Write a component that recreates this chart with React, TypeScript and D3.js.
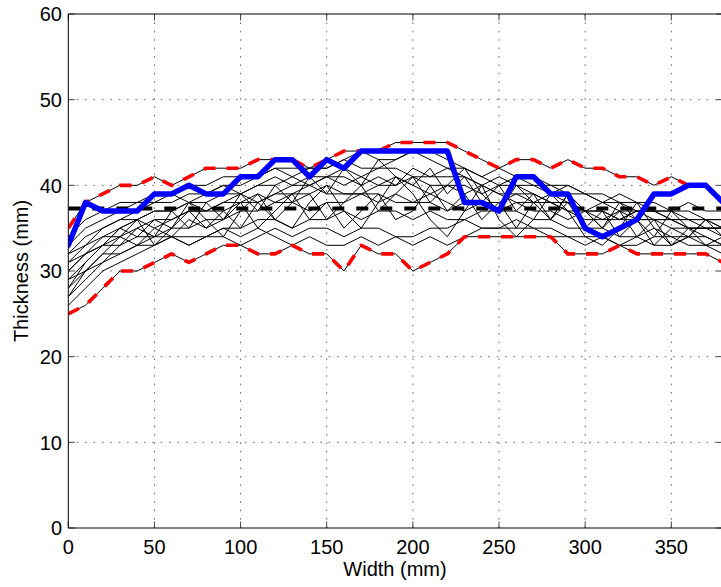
import React from 'react';
import * as d3 from 'd3';

const widths = [0,10,20,30,40,50,60,70,80,90,100,110,120,130,140,150,160,170,180,190,200,210,220,230,240,250,260,270,280,290,300,310,320,330,340,350,360,370,380];
const xTicks = [0,50,100,150,200,250,300,350];
const yTicks = [0,10,20,30,40,50,60];

const highlighted = [33,38,37,37,37,39,39,40,39,39,41,41,43,43,41,43,42,44,44,44,44,44,44,38,38,37,41,41,39,39,35,34,35,36,39,39,40,40,38];
const upperEnvelope = [35,38,39,40,40,41,40,41,42,42,42,43,43,43,42,43,44,44,44,45,45,45,45,44,43,42,43,43,42,43,42,42,41,41,40,41,40,40,38];
const lowerEnvelope = [25,26,28,30,30,31,32,31,32,33,33,32,32,33,32,32,30,33,32,32,30,31,32,34,34,34,34,34,34,32,32,32,33,32,32,32,32,32,31];
const meanThickness = 37.3;

const s01 = [30,32,34,35,36,37,37,38,38,39,39,40,40,41,40,41,42,41,42,43,44,43,42,42,41,40,41,40,40,39,39,38,38,37,37,36,36,35,35];
const s02 = [28,30,31,33,34,34,35,35,36,36,37,37,38,38,37,38,38,39,39,38,38,39,38,37,38,37,37,36,36,35,35,35,34,34,35,34,34,34,33];
const s03 = [32,34,35,36,37,38,38,39,39,40,40,41,42,42,42,42,43,44,43,43,44,44,43,42,41,42,41,41,40,40,39,39,38,38,37,37,37,36,36];
const s04 = [27,29,31,32,33,33,34,34,34,35,35,36,36,35,36,36,37,36,37,37,36,37,36,36,35,35,36,35,35,34,34,34,33,34,33,33,34,33,33];
const s05 = [33,35,36,37,38,39,39,38,39,40,39,40,41,40,41,41,40,41,40,41,40,39,40,39,40,39,38,38,39,38,37,38,37,36,36,36,35,35,34];
const s06 = [29,31,33,34,33,35,34,36,35,37,35,38,36,38,39,36,38,40,37,39,41,38,40,42,39,37,40,38,36,39,37,35,38,36,34,37,35,33,34];
const s07 = [31,33,34,34,35,36,36,37,37,38,38,38,39,39,39,40,39,39,40,40,41,40,40,40,39,40,40,39,38,38,37,37,36,36,36,35,35,35,35];
const s08 = [26,28,30,31,32,33,34,33,34,34,33,34,35,34,35,35,34,35,35,34,34,35,35,36,37,37,38,37,37,36,37,36,36,37,36,36,35,35,35];
const s09 = [34,36,37,38,38,38,39,40,40,41,41,41,42,41,42,42,43,42,42,42,41,41,42,41,40,41,40,40,39,40,39,38,39,38,38,37,38,37,37];
const s10 = [30,32,33,35,34,36,35,37,35,36,38,35,37,39,36,38,35,37,39,36,37,40,37,39,36,38,35,38,36,39,37,35,37,34,36,33,35,34,33];
const s11 = [28,31,33,35,36,35,36,37,37,37,38,39,38,39,40,39,39,39,38,39,38,38,37,38,38,38,39,39,38,37,36,36,37,37,37,36,36,36,35];
const s12 = [32,33,35,36,36,37,37,38,37,38,39,38,39,40,40,41,41,40,41,40,42,41,41,41,40,39,39,38,38,37,37,37,36,37,37,37,36,36,36];
const s13 = [29,30,32,32,33,34,34,33,34,35,34,35,34,33,34,33,33,34,33,34,33,34,33,34,35,35,35,35,34,34,33,34,33,33,34,34,33,33,32];
const s14 = [31,32,33,33,35,34,37,35,38,36,39,37,40,38,41,39,42,40,43,41,40,42,39,41,38,40,37,39,36,38,35,37,34,36,33,35,34,36,34];
const s15 = [27,30,32,34,36,33,35,38,36,34,37,39,36,35,38,40,37,35,38,41,39,36,34,37,40,36,34,36,39,37,34,33,35,38,35,33,34,36,35];

const samples = [s01,s02,s03,s04,s05,s06,s07,s08,s09,s10,s11,s12,s13,s14,s15,upperEnvelope,lowerEnvelope];

export default function App() {
  const W = 721, H = 587;
  const left = 68.3, right = 723, top = 14, bottom = 528;
  const x = d3.scaleLinear().domain([0, 380]).range([left, right]);
  const y = d3.scaleLinear().domain([0, 60]).range([bottom, top]);
  const line = d3.line<number>().x((_, i) => x(widths[i])).y(d => y(d));
  const font = '"Liberation Sans", Arial, Helvetica, sans-serif';
  const tickLen = 6.5;

  return (
    <svg width={W} height={H} viewBox={`0 0 ${W} ${H}`}
      style={{ position: 'absolute', left: 0, top: 0, background: '#fff' }}>
      <defs>
        <clipPath id="plotClip">
          <rect x={left} y={top - 4} width={right - left} height={bottom - top + 8} />
        </clipPath>
      </defs>
      <rect x={0} y={0} width={W} height={H} fill="#fff" />
      <g stroke="#666" strokeWidth={1} strokeDasharray="1.6,6.8">
        {xTicks.filter(t => t > 0).map(t => (
          <line key={'gx' + t} x1={x(t)} x2={x(t)} y1={bottom} y2={top} />
        ))}
        {yTicks.filter(t => t > 0 && t < 60).map(t => (
          <line key={'gy' + t} x1={left} x2={right} y1={y(t)} y2={y(t)} />
        ))}
      </g>
      <g stroke="#444" strokeWidth={1}>
        {xTicks.map(t => (
          <g key={'tx' + t}>
            <line x1={x(t)} x2={x(t)} y1={bottom} y2={bottom - tickLen} />
            <line x1={x(t)} x2={x(t)} y1={top} y2={top + tickLen} />
          </g>
        ))}
        {yTicks.map(t => (
          <g key={'ty' + t}>
            <line x1={left} x2={left + tickLen} y1={y(t)} y2={y(t)} />
            <line x1={right} x2={right - tickLen} y1={y(t)} y2={y(t)} />
          </g>
        ))}
      </g>
      <g clipPath="url(#plotClip)" fill="none">
        {samples.map((s, i) => (
          <path key={'s' + i} d={line(s) || ''} stroke="#000" strokeWidth={1} strokeLinejoin="round" />
        ))}
        <path d={line(upperEnvelope) || ''} stroke="#ff0000" strokeWidth={3.6} strokeDasharray="12,11" strokeLinejoin="round" />
        <path d={line(lowerEnvelope) || ''} stroke="#ff0000" strokeWidth={3.6} strokeDasharray="12,11" strokeLinejoin="round" />
        <line x1={x(0)} x2={x(380)} y1={y(meanThickness)} y2={y(meanThickness)} stroke="#000" strokeWidth={4} strokeDasharray="12,12" />
        <path d={line(highlighted) || ''} stroke="#0000ff" strokeWidth={5.5} strokeLinejoin="round" strokeLinecap="round" />
      </g>
      <g stroke="#000" strokeWidth={1} fill="none">
        <line x1={left} x2={left} y1={top} y2={bottom} />
        <line x1={left} x2={right} y1={bottom} y2={bottom} />
        <line x1={left} x2={right} y1={top} y2={top} />
        <line x1={right} x2={right} y1={top} y2={bottom} />
      </g>
      <g fontFamily={font} fontSize={20} fill="#000">
        {xTicks.map(t => (
          <text key={'lx' + t} x={x(t)} y={553.5} textAnchor="middle">{t}</text>
        ))}
        {yTicks.map(t => (
          <text key={'ly' + t} x={62} y={y(t) + 7.2} textAnchor="end">{t}</text>
        ))}
        <text x={395} y={576} textAnchor="middle">Width (mm)</text>
        <text transform={`translate(28, ${(top + bottom) / 2}) rotate(-90)`} textAnchor="middle">Thickness (mm)</text>
      </g>
    </svg>
  );
}
